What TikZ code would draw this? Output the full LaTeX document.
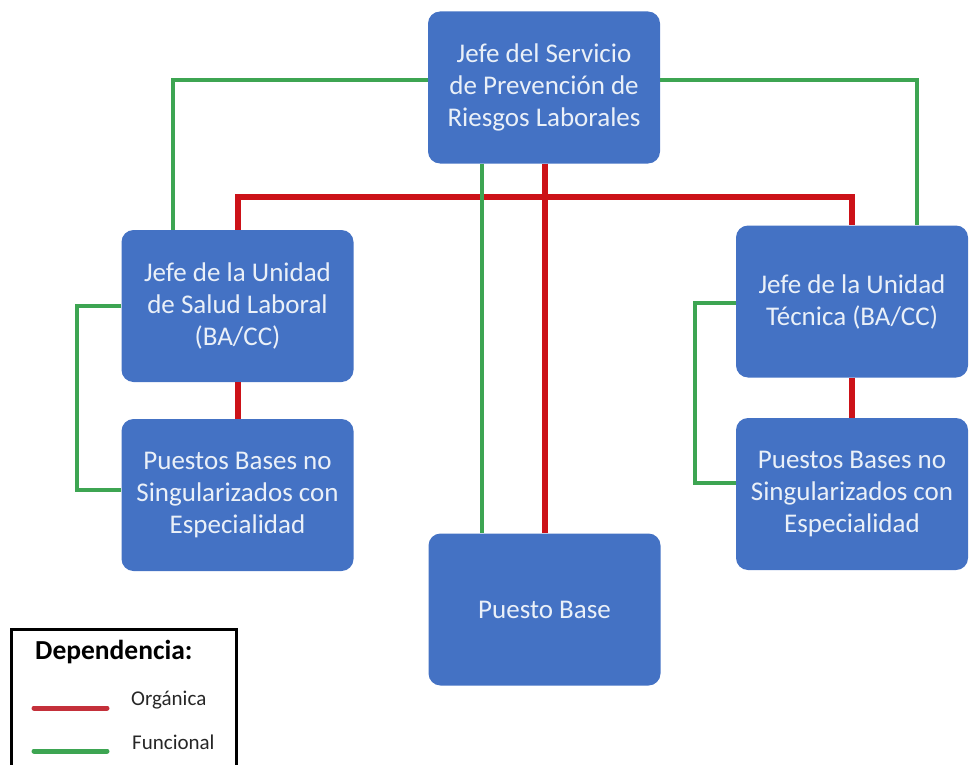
\documentclass[tikz,border=0pt]{standalone}
\usepackage{fontspec}
\setmainfont{Carlito}
\definecolor{boxblue}{HTML}{4472C4}
\definecolor{boxtext}{HTML}{EAF0F8}
\definecolor{orgred}{HTML}{CC1218}
\definecolor{funcgreen}{HTML}{3DA552}
\definecolor{legred}{HTML}{C4303A}
\begin{document}
\begin{tikzpicture}[x=1pt,y=-1pt,
  unitbox/.style={draw=none,fill=boxblue,rounded corners=12pt,minimum width=232pt,minimum height=152pt,
    text=boxtext,align=center,font=\fontsize{27}{32}\selectfont,inner sep=0pt},
  organic/.style={draw=orgred,line width=6pt},
  functional/.style={draw=funcgreen,line width=4.5pt}]
\useasboundingbox (0,0) rectangle (969,765);
% nodes
\node[unitbox] (top) at (544,87.5) {Jefe del Servicio\\de Prevenci\'on de\\Riesgos Laborales};
\node[unitbox] (lj) at (237.5,306) {Jefe de la Unidad\\de Salud Laboral\\(BA/CC)};
\node[unitbox] (lp) at (237.5,495) {Puestos Bases no\\Singularizados con\\Especialidad};
\node[unitbox] (rj) at (852,301.5) {Jefe de la Unidad\\T\'ecnica (BA/CC)};
\node[unitbox] (rp) at (852,494) {Puestos Bases no\\Singularizados con\\Especialidad};
\node[unitbox] (pb) at (544.5,609.5) {Puesto Base};
% coordinates
\coordinate (rh) at (545,197);
% organic (red)
\draw[organic] (top.south -| rh) -- (rh);
\draw[organic] (lj.north) -- (lj.north |- rh) -- (rj.north |- rh) -- (rj.north);
\draw[organic] (rh) -- (pb.north -| rh);
\draw[organic] (lj.south) -- (lp.north);
\draw[organic] (rj.south) -- (rp.north);
% functional (green)
\coordinate (gl) at (173,80);
\coordinate (gr) at (917,80);
\draw[functional] (top.west |- gl) -- (gl) -- (lj.north -| gl);
\draw[functional] (top.east |- gr) -- (gr) -- (rj.north -| gr);
\coordinate (gc) at (482,0);
\draw[functional] (top.south -| gc) -- (pb.north -| gc);
\coordinate (bl1) at (77,306);
\coordinate (bl2) at (77,490);
\draw[functional] (lj.west |- bl1) -- (bl1) -- (bl2) -- (lp.west |- bl2);
\coordinate (br1) at (695,303);
\coordinate (br2) at (695,483);
\draw[functional] (rj.west |- br1) -- (br1) -- (br2) -- (rp.west |- br2);
% legend
\draw[black,line width=3pt] (11,770) -- (11,629) -- (236,629) -- (236,770);
\node[anchor=west,font=\fontsize{27.5}{30}\selectfont\bfseries,text=black,inner sep=0pt] (legt) at (35,652) {Dependencia:};
\coordinate (r1) at (34,708);
\coordinate (r2) at (107,708);
\draw[legred,line width=5pt,line cap=round] (r1) -- (r2);
\coordinate (g1) at (34,751);
\coordinate (g2) at (107,751);
\draw[funcgreen,line width=5pt,line cap=round] (g1) -- (g2);
\node[anchor=west,font=\fontsize{21}{24}\selectfont,text=black!85,inner sep=0pt] (lo) at (131,700) {Org\'anica};
\node[anchor=west,font=\fontsize{21}{24}\selectfont,text=black!85,inner sep=0pt] (lf) at (132,742) {Funcional};
\end{tikzpicture}
\end{document}
